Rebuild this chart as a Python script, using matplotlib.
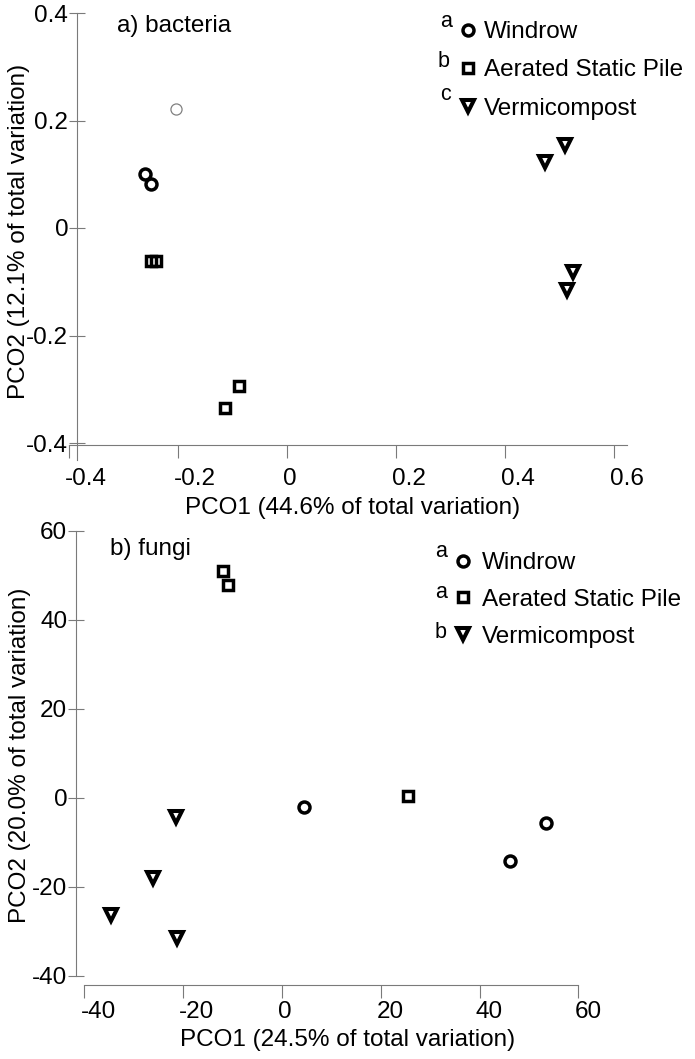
import matplotlib
matplotlib.use('Agg')
import matplotlib.pyplot as plt
from matplotlib.transforms import ScaledTranslation

plt.rcParams['font.family'] = ['Liberation Sans', 'DejaVu Sans']
plt.rcParams['axes.unicode_minus'] = False

# ---------------- data ----------------
# a) bacteria
bact_windrow_x = [-0.261, -0.250]
bact_windrow_y = [0.100, 0.082]
bact_faint_x = [-0.204]          # faint grey circle
bact_faint_y = [0.221]
bact_asp_x = [-0.250, -0.240, -0.088, -0.114]
bact_asp_y = [-0.061, -0.061, -0.294, -0.335]
bact_verm_x = [0.511, 0.474, 0.525, 0.514]
bact_verm_y = [0.154, 0.123, -0.082, -0.115]
bact_xticks = [-0.4, -0.2, 0, 0.2, 0.4, 0.6]
bact_yticks = [-0.4, -0.2, 0, 0.2, 0.4]
bact_letters = ['a', 'b', 'c']

# b) fungi
fung_windrow_x = [4.5, 53.4, 46.1]
fung_windrow_y = [-2.0, -5.6, -14.2]
fung_asp_x = [-11.9, -10.9, 25.5]
fung_asp_y = [51.0, 47.9, 0.4]
fung_verm_x = [-21.5, -26.2, -34.6, -21.3]
fung_verm_y = [-4.3, -18.0, -26.3, -31.5]
fung_xticks = [-40, -20, 0, 20, 40, 60]
fung_yticks = [-40, -20, 0, 20, 40, 60]
fung_letters = ['a', 'a', 'b']

groups = ['Windrow', 'Aerated Static Pile', 'Vermicompost']

# ---------------- layout ----------------
W, H = 695, 1059
fig = plt.figure(figsize=(W / 100, H / 100), dpi=100)
FS = 17.5
GREY = '#7a7a7a'


def fxy(x, y):
    return (x / W, 1 - y / H)


def make_axes(x0, sx, y0, sy, xlim, ylim):
    left = x0 + sx * xlim[0]
    right = x0 + sx * xlim[1]
    top = y0 - sy * ylim[1]
    bottom = y0 - sy * ylim[0]
    ax = fig.add_axes([left / W, 1 - bottom / H, (right - left) / W, (bottom - top) / H])
    ax.set_xlim(*xlim)
    ax.set_ylim(*ylim)
    ax.patch.set_alpha(0)
    return ax


def style(ax, xticks, yticks, xpad, lspine_x, lspine_bounds, bspine_y, bspine_bounds):
    ax.spines['top'].set_visible(False)
    ax.spines['right'].set_visible(False)
    for s in ('left', 'bottom'):
        ax.spines[s].set_color(GREY)
        ax.spines[s].set_linewidth(0.8)
    ax.spines['left'].set_position(('data', lspine_x))
    ax.spines['left'].set_bounds(*lspine_bounds)
    ax.spines['bottom'].set_position(('data', bspine_y))
    ax.spines['bottom'].set_bounds(*bspine_bounds)
    ax.set_xticks(xticks)
    ax.set_xticklabels([f'{v:g}' for v in xticks], ha='left')
    ax.set_yticks(yticks)
    ax.set_yticklabels([f'{v:g}' for v in yticks])
    ax.tick_params(axis='x', direction='out', length=9.4, width=0.8, color=GREY,
                   pad=xpad, labelsize=FS)
    ax.tick_params(axis='y', direction='inout', length=11.5, width=0.8, color=GREY,
                   pad=0.5, labelsize=FS)
    off = ScaledTranslation(-4 / 100, 0, fig.dpi_scale_trans)
    for lbl in ax.get_xticklabels():
        lbl.set_transform(lbl.get_transform() + off)


mk = dict(linestyle='none', mfc='none', mec='black')
circ = dict(marker='o', ms=7.9, mew=2.5, **mk)
squa = dict(marker='s', ms=7.0, mew=2.5, **mk)
tri = dict(marker='v', ms=8.6, mew=2.9, **mk)

# ---------- panel a ----------
axA = make_axes(287, 544.5, 228, 537.5, (-0.43, 0.65), (-0.45, 0.42))
style(axA, bact_xticks, bact_yticks, 7.0,
      (77 - 287) / 544.5, ((228 - 460) / 537.5, 0.4),
      (228 - 445) / 537.5, (-0.4, (627 - 287) / 544.5))
axA.plot(bact_faint_x, bact_faint_y, linestyle='none', marker='o', ms=8,
         mfc='none', mec='#808080', mew=0.9)
hA1, = axA.plot(bact_windrow_x, bact_windrow_y, **circ)
hA2, = axA.plot(bact_asp_x, bact_asp_y, **squa)
hA3, = axA.plot(bact_verm_x, bact_verm_y, **tri)
axA.legend([hA1, hA2, hA3], groups, loc='upper left',
           bbox_to_anchor=fxy(458.3, 21.0), bbox_transform=fig.transFigure,
           frameon=False, borderpad=0, borderaxespad=0, handlelength=0.8,
           handletextpad=0.24, labelspacing=0.67, fontsize=FS, numpoints=1)
for letter, (lx, ly) in zip(bact_letters, [(440, 27), (438, 67), (440, 100)]):
    fig.text(*fxy(lx, ly), letter, fontsize=15.5, va='baseline', ha='left')
axA.set_xlabel('PCO1 (44.6% of total variation)', fontsize=FS)
axA.xaxis.set_label_coords(*fxy(353, 497), transform=fig.transFigure)
axA.set_ylabel('PCO2 (12.1% of total variation)', fontsize=FS)
axA.yaxis.set_label_coords(*fxy(30, 231), transform=fig.transFigure)
fig.text(*fxy(117, 32), 'a) bacteria', fontsize=FS, va='baseline', ha='left')

# ---------- panel b ----------
axB = make_axes(282, 4.94, 798, 4.45, (-44, 63), (-45, 62))
style(axB, fung_xticks, fung_yticks, 2.2,
      (76 - 282) / 4.94, (-40, 60),
      (798 - 985) / 4.45, (-40, 60))
hB1, = axB.plot(fung_windrow_x, fung_windrow_y, **circ)
hB2, = axB.plot(fung_asp_x, fung_asp_y, **squa)
hB3, = axB.plot(fung_verm_x, fung_verm_y, **tri)
axB.legend([hB1, hB2, hB3], groups, loc='upper left',
           bbox_to_anchor=fxy(453.3, 552.3), bbox_transform=fig.transFigure,
           frameon=False, borderpad=0, borderaxespad=0, handlelength=0.8,
           handletextpad=0.38, labelspacing=0.60, fontsize=FS, numpoints=1)
for letter, (lx, ly) in zip(fung_letters, [(435, 557), (435, 598), (435, 638)]):
    fig.text(*fxy(lx, ly), letter, fontsize=15.5, va='baseline', ha='left')
axB.set_xlabel('PCO1 (24.5% of total variation)', fontsize=FS)
axB.xaxis.set_label_coords(*fxy(348, 1029), transform=fig.transFigure)
axB.set_ylabel('PCO2 (20.0% of total variation)', fontsize=FS)
axB.yaxis.set_label_coords(*fxy(31, 755), transform=fig.transFigure)
fig.text(*fxy(110, 555), 'b) fungi', fontsize=FS, va='baseline', ha='left')

fig.savefig('out.png', dpi=100)
